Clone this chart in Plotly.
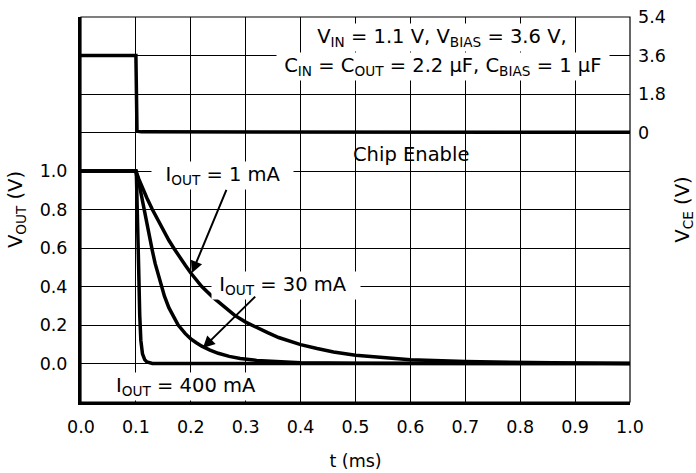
import plotly.graph_objects as go

# ---- data ----
t_1ma = [0.0, 0.1, 0.105, 0.11, 0.12, 0.13, 0.14, 0.15, 0.16, 0.17, 0.18, 0.19, 0.2, 0.21, 0.22, 0.24,
         0.26, 0.28, 0.3, 0.32, 0.34, 0.36, 0.38, 0.4, 0.43, 0.46, 0.5, 0.55, 0.6, 0.7, 0.8, 0.9, 1.0]
v_1ma = [1.0, 1.0, 0.96, 0.925, 0.86, 0.8, 0.745, 0.69, 0.64, 0.595, 0.55, 0.51, 0.47, 0.435, 0.4, 0.345,
         0.295, 0.25, 0.215, 0.185, 0.16, 0.135, 0.115, 0.098, 0.078, 0.06, 0.043, 0.03, 0.02, 0.01, 0.005, 0.002, 0.0]

t_30ma = [0.0, 0.1, 0.104, 0.108, 0.112, 0.116, 0.12, 0.125, 0.13, 0.135, 0.14, 0.146, 0.152, 0.16, 0.168,
          0.177, 0.19, 0.2, 0.21, 0.22, 0.235, 0.25, 0.27, 0.29, 0.32, 0.36, 0.4, 0.5, 1.0]
v_30ma = [1.0, 1.0, 0.96, 0.9, 0.85, 0.8, 0.74, 0.66, 0.585, 0.52, 0.465, 0.4, 0.35, 0.29, 0.245,
          0.2, 0.155, 0.128, 0.108, 0.09, 0.07, 0.053, 0.037, 0.026, 0.016, 0.008, 0.004, 0.001, 0.0]

t_400ma = [0.0, 0.1, 0.101, 0.103, 0.105, 0.107, 0.109, 0.112, 0.116, 0.12, 0.125, 0.13, 1.0]
v_400ma = [1.0, 1.0, 0.97, 0.8, 0.5, 0.25, 0.12, 0.05, 0.02, 0.008, 0.002, 0.0, 0.0]

t_ce = [0.0, 0.1, 0.102, 0.11, 1.0]
v_ce = [3.6, 3.6, 0.06, 0.03, 0.01]

x_ticks = [0.0, 0.1, 0.2, 0.3, 0.4, 0.5, 0.6, 0.7, 0.8, 0.9, 1.0]
x_ticklabels = ["0.0", "0.1", "0.2", "0.3", "0.4", "0.5", "0.6", "0.7", "0.8", "0.9", "1.0"]
vout_ticks = [0.0, 0.2, 0.4, 0.6, 0.8, 1.0]
vout_ticklabels = ["0.0", "0.2", "0.4", "0.6", "0.8", "1.0"]
vce_ticks = [0.0, 1.8, 3.6, 5.4]
vce_ticklabels = ["0", "1.8", "3.6", "5.4"]

FONT = "DejaVu Sans"
FS = 17.5      # tick labels
FA = 19.5      # annotations / axis titles
LW = 3.5

fig = go.Figure()
line = dict(color="black", width=LW)
fig.add_trace(go.Scatter(x=t_1ma, y=v_1ma, mode="lines", line=line, name="IOUT = 1 mA"))
fig.add_trace(go.Scatter(x=t_30ma, y=v_30ma, mode="lines", line=line, name="IOUT = 30 mA"))
fig.add_trace(go.Scatter(x=t_400ma, y=v_400ma, mode="lines", line=line, name="IOUT = 400 mA"))
fig.add_trace(go.Scatter(x=t_ce, y=v_ce, mode="lines", line=line, name="Chip Enable", yaxis="y2"))

nb = "\u00a0"
ann = []
def txt(text, x, y, bg=True):
    d = dict(text=text, x=x, y=y, xref="x", yref="y", showarrow=False,
             font=dict(family=FONT, size=FA, color="black"), xanchor="center", yanchor="middle")
    if bg:
        d.update(bgcolor="white", borderpad=1)
    return d

ann.append(txt(nb + "V<sub>IN</sub> = 1.1 V, V<sub>BIAS</sub> = 3.6 V," + nb, 0.657, 1.695))
ann.append(txt(nb + "C<sub>IN</sub> = C<sub>OUT</sub> = 2.2 μF, C<sub>BIAS</sub> = 1 μF" + nb, 0.659, 1.544))
ann.append(txt(nb * 2 + "I<sub>OUT</sub> = 1 mA" + nb * 2, 0.257, 0.978))
ann.append(txt(nb + "I<sub>OUT</sub> = 30 mA" + nb * 2, 0.3725, 0.407))
ann.append(txt("I<sub>OUT</sub> = 400 mA", 0.191, -0.117))
ann.append(txt("Chip Enable", 0.601, 1.087, bg=False))

# arrows
for (xt, yt, xa, ya) in [(0.202, 0.47, 0.266, 0.91), (0.222, 0.08, 0.32, 0.355)]:
    ann.append(dict(x=xt, y=yt, ax=xa, ay=ya, xref="x", yref="y", axref="x", ayref="y",
                    text="", showarrow=True, arrowhead=2, arrowsize=1.2, arrowwidth=2,
                    arrowcolor="black", standoff=0))

fig.update_layout(
    width=696, height=473,
    margin=dict(l=81, r=66, t=17, b=71, autoexpand=False),
    paper_bgcolor="white", plot_bgcolor="white",
    showlegend=False,
    font=dict(family=FONT, size=FS, color="black"),
    xaxis=dict(range=[0, 1.0], tickvals=x_ticks, ticktext=x_ticklabels, automargin=False,
               showgrid=True, gridcolor="black", gridwidth=1,
               showline=True, linecolor="black", linewidth=3, zeroline=False,
               ticks="", ticklabelstandoff=7,
               title=dict(text="t (ms)", standoff=19, font=dict(family=FONT, size=FS))),
    yaxis=dict(range=[-0.2, 1.8], tickvals=vout_ticks, ticktext=vout_ticklabels, automargin=False,
               showgrid=True, gridcolor="black", gridwidth=1,
               showline=True, linecolor="black", linewidth=3, zeroline=False,
               ticks="", ticklabelstandoff=7,
               title=dict(text="V<sub>OUT</sub> (V)", standoff=12, font=dict(family=FONT, size=FA))),
    yaxis2=dict(range=[-12.6, 5.4], tickvals=vce_ticks, ticktext=vce_ticklabels, automargin=False,
                overlaying="y", side="right",
                showgrid=True, gridcolor="black", gridwidth=1,
                showline=False, zeroline=False, ticks="", ticklabelstandoff=7,
                title=dict(text="V<sub>CE</sub> (V)", standoff=11, font=dict(family=FONT, size=FA))),
    shapes=[dict(type="rect", xref="paper", yref="paper", x0=0, x1=1, y0=0, y1=1,
                 line=dict(color="black", width=1.2), layer="above")],
    annotations=ann,
)

fig.write_html("out.html", config={"displayModeBar": False},
               post_script="document.body.style.margin='0';document.body.style.overflow='hidden';")
